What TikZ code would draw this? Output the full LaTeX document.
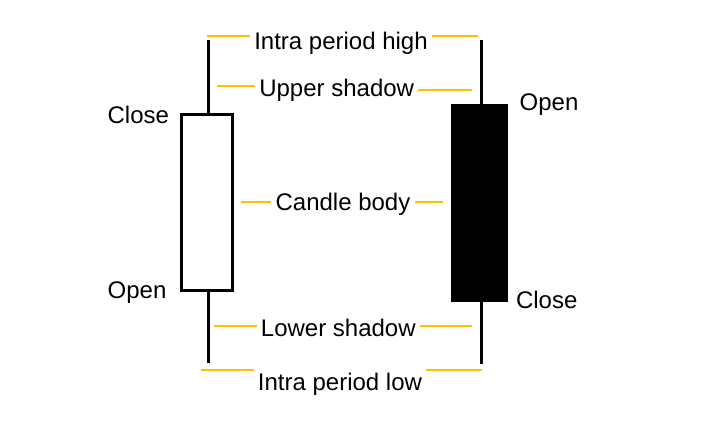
\documentclass[tikz,border=0pt]{standalone}
\usepackage{fontspec}
\setmainfont{Liberation Sans}
\usepackage{tikz}
\usetikzlibrary{positioning}
\definecolor{gold}{HTML}{FFC000}
\tikzset{
	wick/.style={line width=3pt},
	guide/.style={line width=2pt, gold},
	lbl/.style={anchor=base, inner xsep=4pt, inner ysep=0pt, font=\fontsize{24}{28}\selectfont},
}

\begin{document}
\begin{tikzpicture}[x=1pt,y=-1pt]
	\useasboundingbox (0,0) rectangle (702,421);
	% candles
	\node [draw, line width=3pt, inner sep=0pt, minimum width=51pt, minimum height=176.5pt] (white) at (207,202.3) {};
	\node [fill=black, inner sep=0pt, minimum width=57pt, minimum height=198pt] (black) at (479.5,203) {};
	\coordinate (wTop) at (208.5,40); \coordinate (wBot) at (208.5,363);
	\coordinate (bTop) at (481,40); \coordinate (bBot) at (481,364);
	\draw [wick] (wTop) -- (wTop |- white.north) (wBot) -- (wBot |- white.south);
	\draw [wick] (bTop) -- (bTop |- black.north) (bBot) -- (bBot |- black.south);
	% open / close
	\node [lbl] (wClose) at (138.3,123.3) {Close};
	\node [lbl] (wOpen) at (137,298.3) {Open};
	\node [lbl] (bOpen) at (549,110.7) {Open};
	\node [lbl] (bClose) at (546.7,308.3) {Close};
	% parts
	\node [lbl] (hi) at (341,49) {Intra period high};
	\node [lbl] (us) at (336.7,96) {Upper shadow};
	\node [lbl] (cb) at (343,210.7) {Candle body};
	\node [lbl] (ls) at (338.3,336.7) {Lower shadow};
	\node [lbl] (lo) at (340,390) {Intra period low};
	\coordinate (hiL) at (206.7,35.7); \coordinate (hiR) at (478,35.7);
	\coordinate (usL) at (217,86); \coordinate (usR) at (472,90);
	\coordinate (cbL) at (241,202.3); \coordinate (cbR) at (442.7,202.3);
	\coordinate (lsL) at (214,325.7); \coordinate (lsR) at (471.7,325.7);
	\coordinate (loL) at (201,370); \coordinate (loR) at (482,370);
	\draw [guide] (hiL) -- (hiL -| hi.west) (hiR) -- (hiR -| hi.east);
	\draw [guide] (usL) -- (usL -| us.west) (usR) -- (usR -| us.east);
	\draw [guide] (cbL) -- (cbL -| cb.west) (cbR) -- (cbR -| cb.east);
	\draw [guide] (lsL) -- (lsL -| ls.west) (lsR) -- (lsR -| ls.east);
	\draw [guide] (loL) -- (loL -| lo.west) (loR) -- (loR -| lo.east);
\end{tikzpicture}
\end{document}
